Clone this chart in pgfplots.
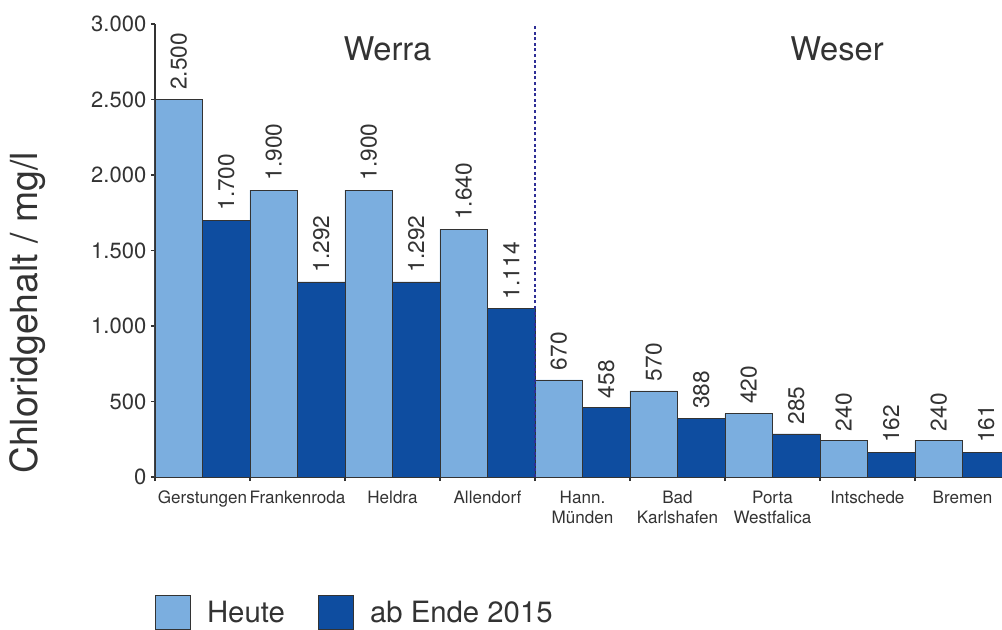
\documentclass[border=0pt]{standalone}
\usepackage{fontspec}
\setmainfont{TeX Gyre Heros}
\usepackage{pgfplots}
\pgfplotsset{compat=1.18}
\usepackage{pgfplotstable}
\definecolor{lightbar}{HTML}{7BAEDF}
\definecolor{darkbar}{HTML}{0E4DA0}
\definecolor{txt}{HTML}{333333}
\definecolor{sepline}{HTML}{2E2E96}

\pgfplotstableread{
x y lab
0.25 2500 2500
1.25 1900 1900
2.25 1900 1900
3.25 1640 1640
4.25 643 670
5.25 570 570
6.25 420 420
7.25 240 240
8.25 240 240
}\heute
\pgfplotstableread{
x y lab
0.75 1700 1700
1.75 1292 1292
2.75 1292 1292
3.75 1114 1114
4.75 458 458
5.75 388 388
6.75 285 285
7.75 162 162
8.75 161 161
}\ende

\begin{document}
\begin{tikzpicture}
\begin{axis}[
  at={(0,0)}, anchor=south west,
  scale only axis, width=635.25pt, height=339.75pt,
  xmin=0, xmax=8.916, ymin=0, ymax=3000,
  axis lines*=left,
  axis line style={draw=txt, line width=0.9pt},
  bar width=0.5, bar shift=0pt,
  ytick={0,500,...,3000},
  xtick={0.5,1.5,...,8.5},
  xticklabels={Gerstungen,Frankenroda,Heldra,Allendorf,{Hann.\\Münden},{Bad\\Karlshafen},{Porta\\Westfalica},Intschede,Bremen},
  minor xtick={0,1,...,9},
  tick align=outside,
  major tick length=3pt, minor tick length=3pt,
  major x tick style={draw=none},
  minor x tick style={draw=txt, line width=0.9pt},
  ytick style={draw=txt, line width=0.8pt},
  /pgf/number format/1000 sep={.},
  /pgf/number format/assume math mode=true,
  yticklabel style={font=\fontsize{16.5}{18}\selectfont, text=txt},
  xticklabel style={font=\fontsize{12.8}{15}\selectfont, text=txt, align=center, yshift=-4pt},
  ylabel={Chloridgehalt / mg/l},
  ylabel style={font=\fontsize{28}{30}\selectfont, text=txt, at={(axis description cs:-0.150,0.362)}, anchor=center},
  legend columns=2,
  legend style={at={(axis description cs:0,-0.2605)}, anchor=north west, draw=none, fill=none,
    font=\fontsize{22}{24}\selectfont, text=txt, inner sep=0pt,
    /tikz/every even column/.append style={column sep=23pt},
    /tikz/every odd column/.append style={column sep=10pt}},
  legend image code/.code={\fill[#1] (0pt,-12.75pt) rectangle (26.25pt,12.75pt);},
]
\addplot[ybar, fill=lightbar, draw=txt, line width=0.6pt,
  nodes near coords, point meta=explicit,
  every node near coord/.append style={rotate=90, anchor=west, font=\fontsize{17}{18}\selectfont, text=txt, inner xsep=7pt, inner ysep=0pt}]
  table[x=x, y=y, meta=lab]{\heute};
\addlegendentry{Heute}
\addplot[ybar, fill=darkbar, draw=txt, line width=0.6pt,
  nodes near coords, point meta=explicit,
  every node near coord/.append style={rotate=90, anchor=west, font=\fontsize{17}{18}\selectfont, text=txt, inner xsep=7pt, inner ysep=0pt}]
  table[x=x, y=y, meta=lab]{\ende};
\addlegendentry{ab Ende 2015}
\addplot[sharp plot, no marks, forget plot, draw=sepline, line width=1.9pt, dash pattern=on 2.2pt off 2pt]
  coordinates {(4,0) (4,2985)};
\node[font=\fontsize{24.5}{26}\selectfont, text=txt] at (axis cs:2.447,2838) {Werra};
\node[font=\fontsize{24.5}{26}\selectfont, text=txt] at (axis cs:7.18,2838) {Weser};
\end{axis}
\pgfresetboundingbox
\path[use as bounding box] (-116.25pt,-114pt) rectangle (635.25pt,357.75pt);
\end{tikzpicture}
\end{document}
